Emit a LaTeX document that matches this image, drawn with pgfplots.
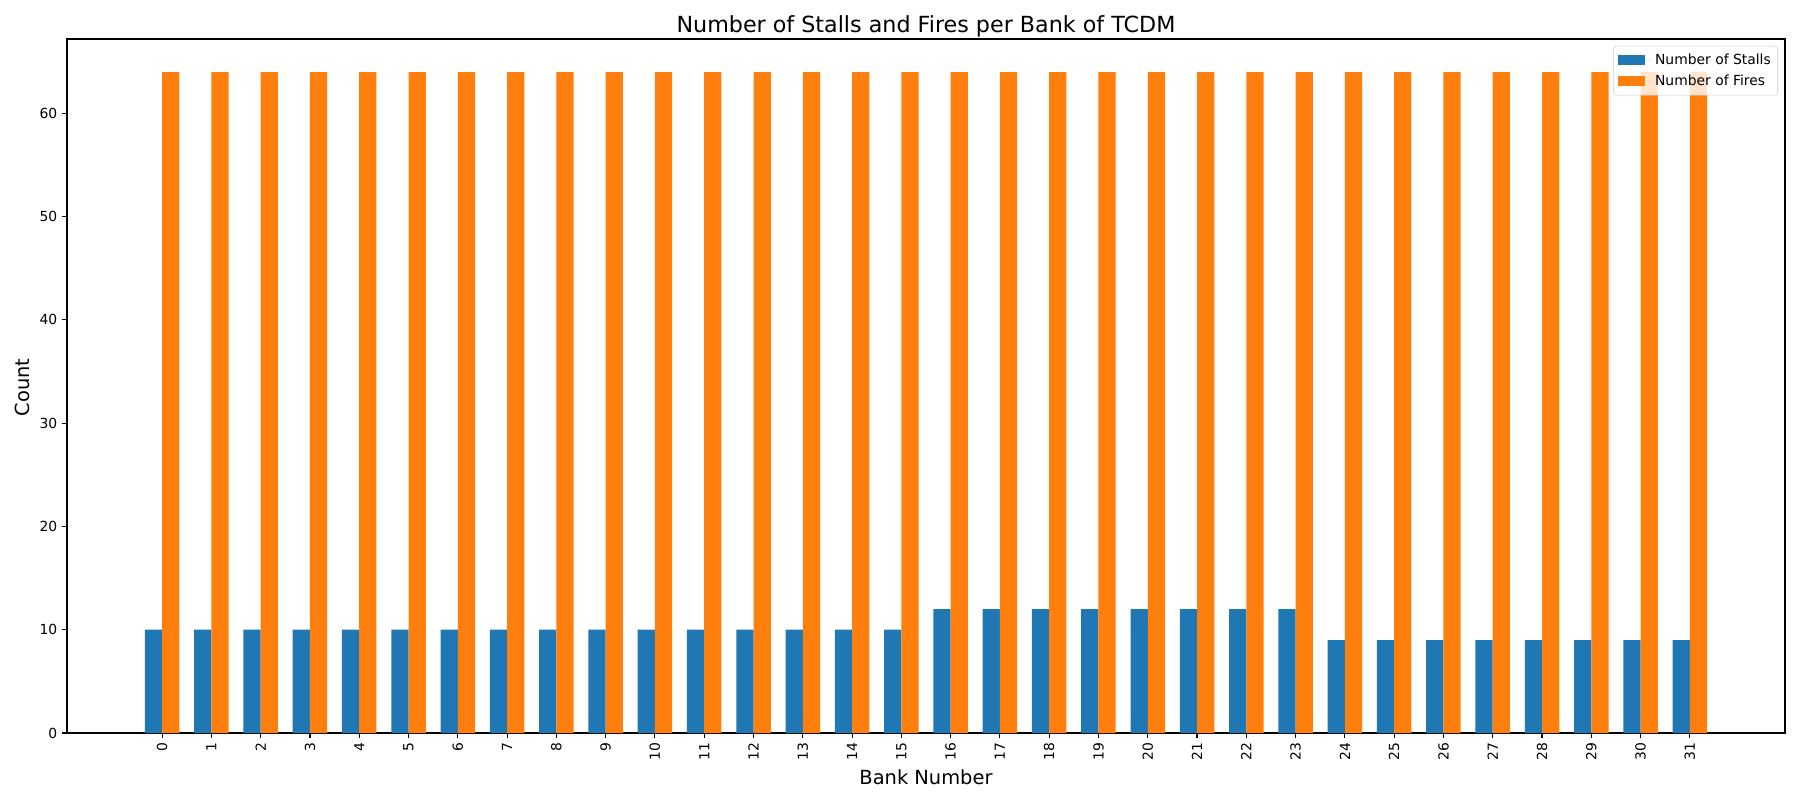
\documentclass[border=0pt]{standalone}
\usepackage{pgfplots}
\pgfplotsset{compat=1.18}
\usepackage{fontspec}
\setmainfont{DejaVu Sans}
\definecolor{mblue}{HTML}{1F77B4}
\definecolor{morange}{HTML}{FF7F0E}
\begin{document}
\begin{tikzpicture}
\path[use as bounding box] (-48.24pt,-48.24pt) rectangle (1247.76pt,527.76pt);
\begin{axis}[
  at={(0,0)}, anchor=south west,
  scale only axis,
  width=1236.96pt, height=499.68pt,
  xmin=-1.93, xmax=32.93,
  ymin=0, ymax=67.2,
  xtick={0,...,31},
  ytick={0,10,20,30,40,50,60},
  xtick pos=bottom, ytick pos=left,
  tick align=outside,
  major tick length=3.5pt,
  tick style={black, line width=0.8pt},
  axis line style={line width=0.8pt},
  x tick label style={rotate=90, anchor=east, font=\fontsize{10}{12}\selectfont},
  y tick label style={font=\fontsize{10}{12}\selectfont},
  /pgf/number format/assume math mode=true,
  xlabel={Bank Number},
  ylabel={Count},
  xlabel style={font=\fontsize{14}{17}\selectfont},
  ylabel style={font=\fontsize{14}{17}\selectfont, xshift=-1pt},
  title={Number of Stalls and Fires per Bank of TCDM},
  title style={font=\fontsize{16}{19}\selectfont, at={(0.5,1)}, anchor=base, yshift=-1pt},
  ybar, bar width=0.35, bar shift=0pt,
  legend style={at={(1,1)}, anchor=north east, xshift=-5pt, yshift=-5pt,
    draw=black!20, fill=white, fill opacity=0.8, text opacity=1,
    rounded corners=2pt, font=\fontsize{10}{12}\selectfont,
    inner xsep=3pt, inner ysep=3.5pt, row sep=2pt},
  legend cell align=left,
  legend image code/.code={\fill[#1, sharp corners, fill opacity=1] (0pt,-3.5pt) rectangle (20pt,3.5pt);
    \path (0pt,0pt) -- (25pt,0pt);},
]
\addplot[fill=mblue, draw=none] coordinates {
(-0.175,10) (0.825,10) (1.825,10) (2.825,10) (3.825,10) (4.825,10) (5.825,10) (6.825,10)
(7.825,10) (8.825,10) (9.825,10) (10.825,10) (11.825,10) (12.825,10) (13.825,10) (14.825,10)
(15.825,12) (16.825,12) (17.825,12) (18.825,12) (19.825,12) (20.825,12) (21.825,12) (22.825,12)
(23.825,9) (24.825,9) (25.825,9) (26.825,9) (27.825,9) (28.825,9) (29.825,9) (30.825,9)
};
\addlegendentry{Number of Stalls}
\addplot[fill=morange, draw=none] coordinates {
(0.175,64) (1.175,64) (2.175,64) (3.175,64) (4.175,64) (5.175,64) (6.175,64) (7.175,64)
(8.175,64) (9.175,64) (10.175,64) (11.175,64) (12.175,64) (13.175,64) (14.175,64) (15.175,64)
(16.175,64) (17.175,64) (18.175,64) (19.175,64) (20.175,64) (21.175,64) (22.175,64) (23.175,64)
(24.175,64) (25.175,64) (26.175,64) (27.175,64) (28.175,64) (29.175,64) (30.175,64) (31.175,64)
};
\addlegendentry{Number of Fires}
\end{axis}
\end{tikzpicture}
\end{document}
